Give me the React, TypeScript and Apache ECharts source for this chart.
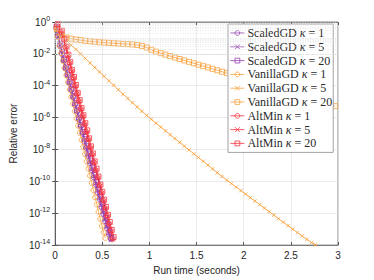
import React, { useEffect, useRef } from "react";
import * as echarts from "echarts";

// ---- data (log10 of relative error) ----
const scaledTimes = [0.01,0.03,0.05,0.07,0.09,0.11,0.13,0.15,0.17,0.19,0.21,0.23,0.25,0.27,0.29,0.31,0.33,0.35,0.37,0.39,0.41,0.43,0.45,0.47,0.49,0.51,0.53,0.55,0.57,0.59];
const scaledK1Exp = [-0.35,-0.9,-1.5,-2.0,-2.4,-2.9,-3.3,-3.8,-4.25,-4.7,-5.2,-5.6,-6.1,-6.55,-7.0,-7.5,-7.9,-8.4,-8.85,-9.3,-9.75,-10.2,-10.7,-11.1,-11.6,-12.05,-12.5,-12.95,-13.35,-13.6];
const scaledK5Exp = [-0.4,-0.95,-1.45,-1.95,-2.45,-2.9,-3.35,-3.8,-4.2,-4.7,-5.15,-5.6,-6.05,-6.5,-6.95,-7.4,-7.9,-8.35,-8.8,-9.25,-9.7,-10.15,-10.6,-11.05,-11.5,-11.95,-12.4,-12.85,-13.25,-13.7];
const scaledK20Times = [0.015,0.035,0.055,0.075,0.095,0.115,0.135,0.155,0.175,0.195,0.215,0.235,0.255,0.275,0.295,0.315,0.335,0.355,0.375,0.395,0.415,0.435,0.455,0.475,0.495,0.515,0.535,0.555,0.575,0.595];
const scaledK20Exp = [-0.3,-0.85,-1.4,-1.9,-2.35,-2.85,-3.3,-3.75,-4.2,-4.65,-5.1,-5.55,-6.0,-6.45,-6.9,-7.35,-7.8,-8.25,-8.7,-9.15,-9.6,-10.05,-10.5,-10.95,-11.4,-11.85,-12.3,-12.75,-13.2,-13.55];

const vanillaK1Times = [0.01,0.028,0.046,0.064,0.082,0.1,0.118,0.136,0.154,0.172,0.19,0.208,0.226,0.244,0.262,0.28,0.298,0.316,0.334,0.352,0.37,0.388,0.406,0.424,0.442,0.46,0.478,0.496,0.514,0.532];
const vanillaK1Exp = [-0.4,-0.95,-1.5,-1.95,-2.45,-2.9,-3.35,-3.8,-4.25,-4.7,-5.15,-5.6,-6.05,-6.5,-6.95,-7.4,-7.85,-8.3,-8.75,-9.2,-9.65,-10.1,-10.55,-11.0,-11.45,-11.9,-12.35,-12.8,-13.2,-13.55];

const vanillaK5Times = [0.01,0.07,0.12,0.17,0.22,0.27,0.32,0.37,0.42,0.47,0.52,0.57,0.62,0.67,0.72,0.77,0.82,0.87,0.92,0.97,1.02,1.07,1.12,1.17,1.22,1.27,1.32,1.37,1.42,1.47,1.52,1.57,1.62,1.67,1.72,1.77,1.82,1.87,1.92,1.97,2.02,2.07,2.12,2.17,2.22,2.27,2.32,2.37,2.42,2.47,2.52,2.57,2.62,2.67,2.72,2.76];
const vanillaK5Exp = [-0.45,-0.85,-1.15,-1.45,-1.72,-2.0,-2.28,-2.57,-2.85,-3.13,-3.41,-3.69,-3.97,-4.25,-4.53,-4.8,-5.07,-5.33,-5.6,-5.86,-6.1,-6.35,-6.59,-6.83,-7.07,-7.31,-7.55,-7.79,-8.03,-8.27,-8.5,-8.74,-8.98,-9.22,-9.46,-9.69,-9.92,-10.14,-10.36,-10.58,-10.8,-11.02,-11.24,-11.46,-11.68,-11.9,-12.12,-12.34,-12.56,-12.78,-13.0,-13.22,-13.43,-13.64,-13.84,-13.98];

const vanillaK20Times = [0.02,0.07,0.12,0.17,0.22,0.27,0.32,0.37,0.42,0.47,0.52,0.57,0.62,0.67,0.72,0.77,0.82,0.87,0.92,0.97,1.02,1.07,1.12,1.17,1.22,1.27,1.32,1.37,1.42,1.47,1.52,1.57,1.62,1.67,1.72,1.77,1.82,1.87,1.92,1.97,2.02,2.07,2.12,2.17,2.22,2.27,2.32,2.37,2.42,2.47,2.52,2.57,2.62,2.67,2.72,2.77,2.82,2.87,2.92,2.97];
const vanillaK20Exp = [-0.45,-0.82,-0.97,-1.05,-1.1,-1.14,-1.18,-1.21,-1.24,-1.27,-1.29,-1.31,-1.33,-1.35,-1.37,-1.39,-1.41,-1.44,-1.5,-1.6,-1.74,-1.86,-1.96,-2.05,-2.14,-2.23,-2.32,-2.41,-2.5,-2.59,-2.68,-2.77,-2.85,-2.94,-3.03,-3.12,-3.21,-3.3,-3.39,-3.48,-3.57,-3.66,-3.75,-3.84,-3.93,-4.02,-4.11,-4.2,-4.29,-4.38,-4.47,-4.56,-4.65,-4.74,-4.83,-4.92,-5.01,-5.1,-5.19,-5.28];

const altK1Times = [0.02,0.06,0.09,0.11,0.13,0.15,0.17,0.19,0.21,0.23,0.25,0.27,0.29,0.31,0.33,0.35,0.37,0.39,0.41,0.43,0.45,0.47,0.49,0.51,0.53,0.55,0.57,0.59,0.61];
const altK1Exp = [-0.2,-0.6,-1.1,-1.6,-2.1,-2.55,-3.05,-3.5,-4.0,-4.5,-4.95,-5.45,-5.9,-6.4,-6.9,-7.35,-7.85,-8.3,-8.8,-9.3,-9.75,-10.25,-10.7,-11.2,-11.7,-12.15,-12.65,-13.1,-13.6];
const altK5Times = [0.025,0.065,0.095,0.115,0.135,0.155,0.175,0.195,0.215,0.235,0.255,0.275,0.295,0.315,0.335,0.355,0.375,0.395,0.415,0.435,0.455,0.475,0.495,0.515,0.535,0.555,0.575,0.595,0.615];
const altK5Exp = [-0.25,-0.65,-1.15,-1.65,-2.1,-2.6,-3.1,-3.55,-4.05,-4.5,-5.0,-5.5,-5.95,-6.45,-6.9,-7.4,-7.9,-8.35,-8.85,-9.3,-9.8,-10.3,-10.75,-11.25,-11.7,-12.2,-12.7,-13.15,-13.65];
const altK20Times = [0.03,0.07,0.1,0.12,0.14,0.16,0.18,0.2,0.22,0.24,0.26,0.28,0.3,0.32,0.34,0.36,0.38,0.4,0.42,0.44,0.46,0.48,0.5,0.52,0.54,0.56,0.58,0.6,0.62];
const altK20Exp = [-0.15,-0.55,-1.05,-1.55,-2.05,-2.5,-3.0,-3.45,-3.95,-4.45,-4.9,-5.4,-5.85,-6.35,-6.8,-7.3,-7.8,-8.25,-8.75,-9.2,-9.7,-10.2,-10.65,-11.15,-11.6,-12.1,-12.55,-13.05,-13.5];

const seriesNames = [
  "ScaledGD κ = 1", "ScaledGD κ = 5", "ScaledGD κ = 20",
  "VanillaGD κ = 1", "VanillaGD κ = 5", "VanillaGD κ = 20",
  "AltMin κ = 1", "AltMin κ = 5", "AltMin κ = 20",
];
const xTickValues = [0, 0.5, 1, 1.5, 2, 2.5, 3];
const yMinExp = -14;
const yMaxExp = 0;

const PURPLE = "#9440B0";
const ORANGE = "#F9A13C";
const RED = "#F5333F";
const X_SYMBOL = "path://M0,0L10,10M10,0L0,10";
const CLEAR = "rgba(255,255,255,0)";

const pairs = (t: number[], e: number[]) => t.map((x, i) => [x, Math.pow(10, e[i])]);

export default function App() {
  const ref = useRef<HTMLDivElement>(null);
  useEffect(() => {
    if (!ref.current) return;
    const chart = echarts.init(ref.current, null, { renderer: "svg" });

    const mk = (name: string, data: number[][], color: string, symbol: string, size: number) => ({
      name,
      type: "line",
      data,
      symbol,
      symbolSize: size,
      showSymbol: true,
      color,
      lineStyle: { color, width: 0.8 },
      itemStyle: { color: CLEAR, borderColor: color, borderWidth: 0.8 },
      emphasis: { disabled: true },
      z: 3,
    });

    const minorGrid: any[] = [];
    for (let k = yMinExp; k < yMaxExp; k++) {
      for (let m = 1; m <= 9; m++) {
        if (m === 1 && k % 2 === 0) continue;
        minorGrid.push({ yAxis: m * Math.pow(10, k) });
      }
    }

    const ySup = (v: number) => {
      const e = Math.round(Math.log10(v));
      return `{b|10}{s|${e}}`;
    };

    const commonY = {
      type: "log",
      logBase: 10,
      min: Math.pow(10, yMinExp),
      max: Math.pow(10, yMaxExp),
      interval: 2,
    };

    const option: any = {
      animation: false,
      grid: { left: 48, right: 36, top: 22, bottom: 31, show: true, borderColor: "#555", borderWidth: 0.7, backgroundColor: "#fff" },
      legend: {
        data: seriesNames,
        orient: "vertical",
        left: 228,
        top: 24,
        itemWidth: 14,
        itemHeight: 6,
        itemGap: 1.8,
        padding: [3, 1, 3, 2],
        backgroundColor: "#fff",
        borderColor: "#8a8a8a",
        borderWidth: 0.8,
        itemStyle: { color: CLEAR, borderWidth: 0.8 },
        lineStyle: { width: 0.8 },
        textStyle: {
          fontFamily: "Liberation Serif",
          fontSize: 12,
          fontWeight: "normal",
          color: "#2a2a2a",
          padding: [0, 0, 0, -2],
          rich: {
            a: { fontFamily: "Liberation Serif", fontWeight: "normal", fontSize: 12, lineHeight: 12, color: "#2a2a2a" },
            k: { fontFamily: "Liberation Serif", fontWeight: "normal", fontStyle: "italic", fontSize: 12, lineHeight: 12, color: "#2a2a2a" },
          },
        },
        formatter: (name: string) => {
          const [left, right] = name.split("κ");
          return `{a|${left}}{k|κ}{a|${right}}`;
        },
      },
      xAxis: [
        {
          type: "value",
          min: 0,
          max: 3,
          interval: 0.5,
          name: "Run time (seconds)",
          nameLocation: "middle",
          nameGap: 17,
          nameTextStyle: { fontFamily: "Liberation Sans", fontSize: 10, color: "#262626" },
          axisLine: { show: true, lineStyle: { color: "#555", width: 0.7 } },
          axisTick: { show: true, inside: true, length: 3, lineStyle: { color: "#555" } },
          axisLabel: {
            fontFamily: "Liberation Sans", fontSize: 10, color: "#262626", margin: 5,
            formatter: (v: number) => (xTickValues.includes(v) ? String(v) : ""),
          },
          splitLine: { show: true, lineStyle: { color: "#e2e2e2", width: 0.7 } },
        },
        {
          type: "value", position: "top", min: 0, max: 3, interval: 0.5,
          axisLine: { show: true, lineStyle: { color: "#555", width: 0.7 } },
          axisTick: { show: true, inside: true, length: 3, lineStyle: { color: "#555" } },
          axisLabel: { show: false },
          splitLine: { show: false },
        },
      ],
      yAxis: [
        {
          ...commonY,
          name: "Relative error",
          nameLocation: "middle",
          nameGap: 33,
          nameTextStyle: { fontFamily: "Liberation Sans", fontSize: 10, color: "#262626" },
          axisLine: { show: true, lineStyle: { color: "#555", width: 0.7 } },
          axisTick: { show: true, inside: true, length: 3, lineStyle: { color: "#555" } },
          axisLabel: {
            margin: 5,
            formatter: ySup,
            rich: {
              b: { fontFamily: "Liberation Sans", fontSize: 10, color: "#262626" },
              s: { fontFamily: "Liberation Sans", fontSize: 7, color: "#262626", padding: [0, 0, 7, 0] },
            },
          },
          splitLine: { show: true, lineStyle: { color: "#e2e2e2", width: 0.7 } },
        },
        {
          ...commonY,
          position: "right",
          axisLine: { show: true, lineStyle: { color: "#555", width: 0.7 } },
          axisTick: { show: true, inside: true, length: 3, lineStyle: { color: "#555" } },
          axisLabel: { show: false },
          splitLine: { show: false },
        },
      ],
      series: [
        {
          name: "minor-grid",
          type: "line",
          data: [],
          silent: true,
          z: 1,
          markLine: {
            silent: true,
            symbol: ["none", "none"],
            label: { show: false },
            lineStyle: { color: "#dedede", type: [1, 1.5], width: 0.6 },
            emphasis: { disabled: true },
            data: minorGrid,
          },
        },
        mk(seriesNames[0], pairs(scaledTimes, scaledK1Exp), PURPLE, "circle", 5),
        mk(seriesNames[1], pairs(scaledTimes, scaledK5Exp), PURPLE, X_SYMBOL, 4),
        mk(seriesNames[2], pairs(scaledK20Times, scaledK20Exp), PURPLE, "rect", 5),
        mk(seriesNames[3], pairs(vanillaK1Times, vanillaK1Exp), ORANGE, "circle", 5),
        mk(seriesNames[4], pairs(vanillaK5Times, vanillaK5Exp), ORANGE, X_SYMBOL, 3.5),
        mk(seriesNames[5], pairs(vanillaK20Times, vanillaK20Exp), ORANGE, "rect", 5),
        mk(seriesNames[6], pairs(altK1Times, altK1Exp), RED, "circle", 5),
        mk(seriesNames[7], pairs(altK5Times, altK5Exp), RED, X_SYMBOL, 4),
        mk(seriesNames[8], pairs(altK20Times, altK20Exp), RED, "rect", 5),
      ],
    };
    chart.setOption(option);
    return () => chart.dispose();
  }, []);
  return <div ref={ref} style={{ width: 374, height: 280, position: "absolute", left: 0, top: 0 }} />;
}
